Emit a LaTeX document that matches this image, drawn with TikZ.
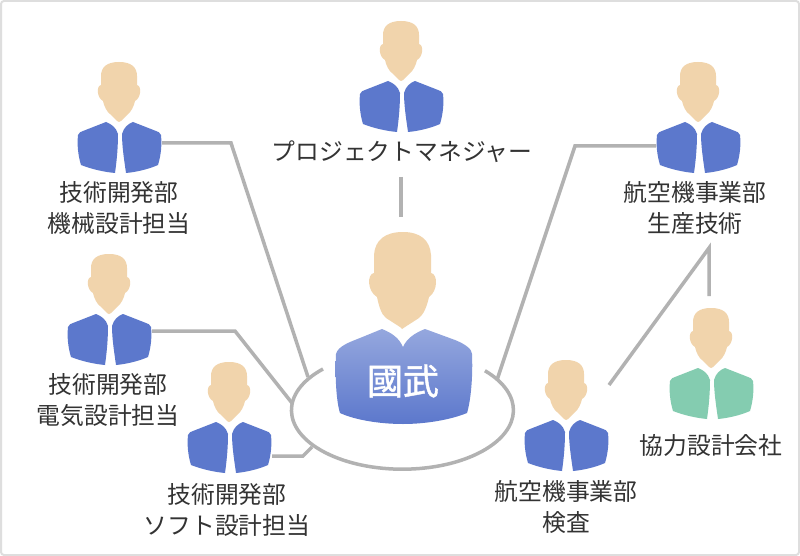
\documentclass[tikz,border=0pt]{standalone}
\usepackage{fontspec}
\setmainfont{Noto Sans CJK JP}
\newfontfamily\kfont[RawFeature={embolden=1.2}]{Noto Sans CJK JP}
\begin{document}
\begin{tikzpicture}[x=1pt,y=-1pt,
  conn/.style={draw=linegray,line width=3.5pt,line join=miter},
  lbl/.style={font=\fontsize{23.8}{30.5}\selectfont,align=center,text=textc,inner sep=0pt},
  person/.pic={
    \fill[skin] (0,0) .. controls (-12,0) and (-18,5) .. (-18,14)
      -- (-18,23) .. controls (-23,24) and (-22,36) .. (-16,39)
      .. controls (-15,44) and (-12,50) .. (-9,52)
      -- (-2,59) -- (0,60) -- (2,59) -- (9,52)
      .. controls (12,50) and (15,44) .. (16,39)
      .. controls (22,36) and (23,24) .. (18,23)
      -- (18,14) .. controls (18,5) and (12,0) .. (0,0) -- cycle;
    \fill[pic actions] (-13,60) .. controls (-8,62) and (-3,65) .. (-1,72)
      .. controls (-1,84) and (-2,97) .. (-4,111)
      .. controls (-15,110) and (-28,107) .. (-38,103)
      .. controls (-41,93) and (-42,83) .. (-41,73)
      .. controls (-40,70) and (-38,70) .. (-36,69) -- cycle;
    \fill[pic actions] (14,60) .. controls (9,62) and (5,65) .. (3,72)
      .. controls (3,84) and (5,97) .. (7,111)
      .. controls (18,110) and (30,107) .. (39,103)
      .. controls (42,93) and (43,83) .. (42,73)
      .. controls (41,70) and (39,70) .. (37,69) -- cycle;
  }]
\definecolor{skin}{HTML}{F1D4AC}
\definecolor{suit}{HTML}{5C78CC}
\definecolor{green1}{HTML}{84CCB0}
\definecolor{linegray}{HTML}{B2B2B2}
\definecolor{textc}{HTML}{333333}
\definecolor{frame}{HTML}{DEDEDE}
\useasboundingbox (0,0) rectangle (800,556);
\draw[frame,line width=2pt,fill=white,rounded corners=3pt] (1,1) rectangle (799,555);

\pic[fill=suit] at (119,62) {person};
\pic[fill=suit] at (401,21) {person};
\pic[fill=suit] at (698,62) {person};
\pic[fill=suit] at (109,254) {person};
\pic[fill=suit] at (229,362) {person};
\pic[fill=suit] at (566,360) {person};
\pic[fill=green1] at (711,308) {person};

% central person
\fill[skin] (403,232) .. controls (385,232) and (375,240) .. (374,255)
  -- (374,273) .. controls (367,274) and (367,291) .. (377,297)
  .. controls (379,306) and (381,314) .. (386,318)
  -- (400,327) -- (402,329) -- (405,327) -- (419,318)
  .. controls (424,314) and (427,306) .. (429,297)
  .. controls (438,291) and (438,274) .. (431,273)
  -- (431,255) .. controls (430,240) and (420,232) .. (403,232) -- cycle;
\shade[top color=suit!65!white,bottom color=suit]
  (382,329) .. controls (392,333) and (399,338) .. (403,347)
  .. controls (407,338) and (415,333) .. (425,329)
  -- (455,340) .. controls (465,344) and (472,349) .. (472,354)
  .. controls (473,375) and (471,400) .. (467,413)
  .. controls (450,420) and (425,424) .. (403,424)
  .. controls (380,424) and (355,420) .. (340,413)
  .. controls (336,400) and (335,375) .. (336,354)
  .. controls (338,346) and (350,342) .. (360,338) -- cycle;
\node[font=\kfont\fontsize{36}{36}\selectfont,text=white,inner sep=0pt] (kunitake) at (403,381) {國武};

% ellipse
\draw[linegray,line width=3.5pt] (323,369) arc[start angle=-135.7,end angle=-402,x radius=111,y radius=59];

\node[lbl] (pm) at (402,152) {プロジェクトマネジャー};
\node[lbl] (mech) at (119,208) {技術開発部\\機械設計担当};
\node[lbl] (elec) at (108,400) {技術開発部\\電気設計担当};
\node[lbl] (soft) at (227,510) {技術開発部\\ソフト設計担当};
\node[lbl] (prod) at (695,208) {航空機事業部\\生産技術};
\node[lbl] (insp) at (566,507) {航空機事業部\\検査};
\node[lbl] (part) at (711,445) {協力設計会社};

\coordinate (a1) at (162,143); \coordinate (a2) at (231,143); \coordinate (a3) at (308,377);
\coordinate (b1) at (152,331); \coordinate (b2) at (235,331); \coordinate (b3) at (292,403);
\coordinate (c1) at (272,456); \coordinate (c2) at (303,456); \coordinate (c3) at (312,447);
\coordinate (d1) at (497,380); \coordinate (d2) at (575,146); \coordinate (d3) at (656,146);
\coordinate (e1) at (401,177); \coordinate (e2) at (401,217);
\coordinate (f1) at (609,385); \coordinate (f2) at (709,248); \coordinate (f3) at (709,296);
\draw[conn] (a1) -- (a2) -- (a3);
\draw[conn] (b1) -- (b2) -- (b3);
\draw[conn] (c1) -- (c2) -- (c3);
\draw[conn] (d1) -- (d2) -- (d3);
\draw[conn] (e1) -- (e2);
\draw[conn] (f1) -- (f2) -- (f3);
\end{tikzpicture}
\end{document}
